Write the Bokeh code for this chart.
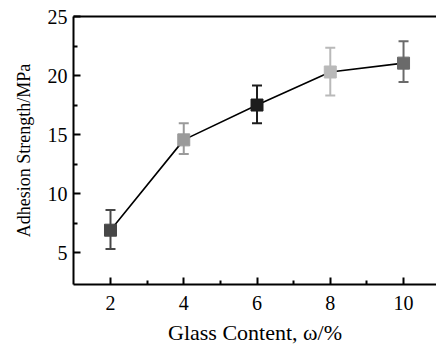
from bokeh.plotting import figure
from bokeh.models import LinearAxis, Range1d, FixedTicker, Whisker, ColumnDataSource, TeeHead
from bokeh.embed import file_html
from bokeh.resources import INLINE

glass = [2, 4, 6, 8, 10]
strength = [6.9, 14.55, 17.5, 20.3, 21.05]
err_low = [5.3, 13.35, 15.95, 18.3, 19.45]
err_high = [8.6, 15.95, 19.15, 22.35, 22.9]
colors = ["#474747", "#9a9a9a", "#1c1c1c", "#b9b9b9", "#6a6a6a"]
x_ticks = [2, 4, 6, 8, 10]
y_ticks = [5, 10, 15, 20, 25]

FONT = "Liberation Serif"

p = figure(width=436, height=347, output_backend="svg", toolbar_location=None,
           x_range=Range1d(0.99, 10.9), y_range=Range1d(2.3, 25),
           min_border_left=73, min_border_right=0, min_border_top=16, min_border_bottom=62)
p.outline_line_color = None
p.grid.visible = False
p.background_fill_color = "white"

src = ColumnDataSource(dict(x=glass, y=strength, lo=err_low, hi=err_high, c=colors))

p.line("x", "y", source=src, line_color="black", line_width=1.6)
w = Whisker(source=src, base="x", lower="lo", upper="hi", line_color="c", line_width=2)
w.upper_head = TeeHead(size=10, line_color={"field": "c"}, line_width=2)
w.lower_head = TeeHead(size=10, line_color={"field": "c"}, line_width=2)
p.add_layout(w)
p.scatter("x", "y", source=src, marker="square", size=12, fill_color="c", line_color="c")

for ax in (p.xaxis[0], p.yaxis[0]):
    ax.axis_line_width = 2
    ax.axis_line_color = "black"
    ax.major_tick_in = 7
    ax.major_tick_out = 0
    ax.minor_tick_in = 4
    ax.minor_tick_out = 0
    ax.major_tick_line_width = 2
    ax.minor_tick_line_width = 2
    ax.major_label_text_font = FONT
    ax.major_label_text_font_size = "20px"
    ax.major_label_text_color = "black"
    ax.axis_label_text_font = FONT
    ax.axis_label_text_font_style = "normal"
    ax.axis_label_text_color = "black"

p.xaxis[0].axis_label_text_font_size = "22px"
p.yaxis[0].axis_label_text_font_size = "18px"
p.xaxis[0].ticker = FixedTicker(ticks=x_ticks, minor_ticks=[3, 5, 7, 9])
p.yaxis[0].ticker = FixedTicker(ticks=y_ticks, minor_ticks=[7.5, 12.5, 17.5, 22.5])
p.xaxis[0].axis_label = "Glass Content, ω/%"
p.yaxis[0].axis_label = "Adhesion Strength/MPa"
p.xaxis[0].major_label_standoff = 11
p.yaxis[0].major_label_standoff = 6
p.xaxis[0].axis_label_standoff = 7
p.yaxis[0].axis_label_standoff = 11

top = LinearAxis(ticker=FixedTicker(ticks=[]), major_label_text_font_size="0px",
                 axis_line_width=2, axis_line_color="black",
                 major_tick_line_color=None, minor_tick_line_color=None)
p.add_layout(top, "above")

open("out.html", "w").write(file_html(p, INLINE))
